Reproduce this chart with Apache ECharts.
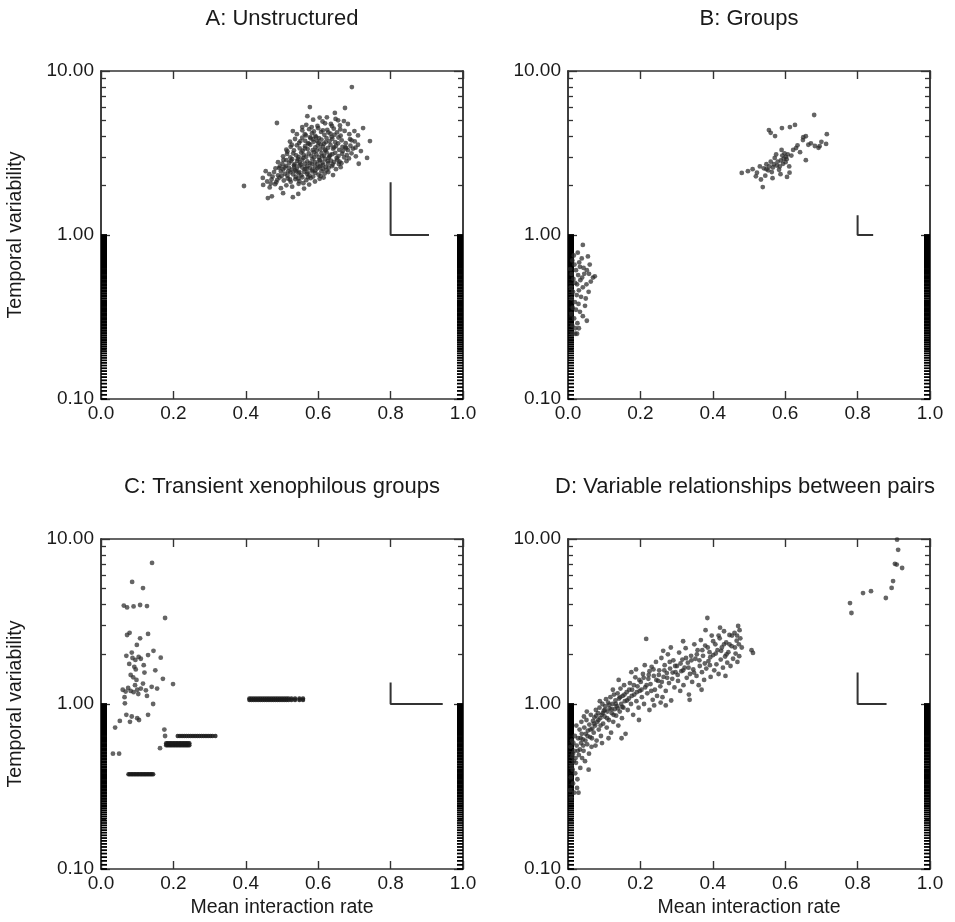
<!DOCTYPE html>
<html>
<head>
<meta charset="utf-8">
<title>Interaction rate vs temporal variability</title>
<script src="https://cdn.jsdelivr.net/npm/echarts@6/dist/echarts.min.js"></script>
<style>
  html, body { margin: 0; padding: 0; background: #fff; }
  #chart { width: 955px; height: 922px; }
</style>
</head>
<body>
<div id="chart"></div>
<script>
// ---- axis ticks ----
const xTickStep = 0.2;
const yMajor = [0.1, 1, 10];
const yMinor = [0.2, 0.3, 0.4, 0.5, 0.6, 0.7, 0.8, 0.9, 2, 3, 4, 5, 6, 7, 8, 9];

// ---- panel titles and axis names ----
const panelTitles = ['A: Unstructured', 'B: Groups', 'C: Transient xenophilous groups', 'D: Variable relationships between pairs'];
const yName = 'Temporal variability';
const xName = 'Mean interaction rate';

// ---- tick stacks drawn at rate 0 and rate 1 ----
const stackLevels = [
  0.100,0.106,0.112,0.118,0.124,0.130,0.136,0.142,0.148,0.154,0.160,0.166,0.172,0.178,0.184,0.190,0.196,
  0.202,0.208,0.214,0.220,0.226,0.232,0.238,0.244,0.250,0.256,0.262,0.268,0.274,0.280,0.286,0.292,0.298,
  0.304,0.310,0.316,0.322,0.328,0.334,0.340,0.346,0.352,0.358,0.364,0.370,0.376,0.382,0.388,0.394,0.400,
  0.41,0.42,0.43,0.44,0.45,0.46,0.47,0.48,0.49,0.50,0.51,0.52,0.53,0.54,0.55,0.56,0.57,0.58,0.59,0.60,
  0.61,0.62,0.63,0.64,0.65,0.66,0.67,0.68,0.69,0.70,0.71,0.72,0.73,0.74,0.75,0.76,0.77,0.78,0.79,0.80,
  0.81,0.82,0.83,0.84,0.85,0.86,0.87,0.88,0.89,0.90,0.91,0.92,0.93,0.94,0.95,0.96,0.97,0.98,0.99,1.00
];

// ---- scale bars (L marks) per panel ----
const scaleBarA = [[0.8, 2.1], [0.8, 1.0], [0.906, 1.0]];
const scaleBarB = [[0.8, 1.32], [0.8, 1.0], [0.843, 1.0]];
const scaleBarC = [[0.8, 1.35], [0.8, 1.0], [0.944, 1.0]];
const scaleBarD = [[0.8, 1.55], [0.8, 1.0], [0.880, 1.0]];

// ---- A: Unstructured ----
const ptsA = [
  [0.461,1.68],[0.472,1.72],[0.530,1.70],[0.503,1.80],[0.545,1.78],
  [0.395,1.99],[0.448,2.02],[0.466,1.95],[0.481,2.04],[0.497,1.93],[0.512,2.01],[0.528,1.97],[0.546,2.05],[0.561,1.92],[0.575,2.03],
  [0.447,2.23],[0.459,2.12],[0.471,2.18],[0.484,2.10],[0.493,2.24],[0.505,2.15],[0.516,2.21],[0.524,2.11],[0.537,2.19],[0.548,2.13],[0.556,2.25],[0.567,2.16],[0.579,2.22],[0.591,2.12],[0.604,2.20],[0.615,2.24],
  [0.465,2.35],[0.478,2.42],[0.489,2.31],[0.497,2.44],[0.508,2.36],[0.515,2.30],[0.523,2.41],[0.531,2.34],[0.539,2.45],[0.546,2.38],[0.553,2.31],[0.561,2.43],[0.569,2.36],[0.576,2.30],[0.584,2.44],[0.592,2.39],[0.601,2.33],[0.609,2.45],[0.618,2.37],[0.628,2.42],[0.641,2.32],
  [0.482,2.55],[0.494,2.62],[0.503,2.51],[0.511,2.64],[0.519,2.57],[0.527,2.50],[0.534,2.61],[0.541,2.54],[0.548,2.65],[0.556,2.58],[0.563,2.52],[0.570,2.63],[0.577,2.56],[0.584,2.50],[0.591,2.62],[0.598,2.55],[0.606,2.64],[0.613,2.53],[0.621,2.60],[0.629,2.57],[0.638,2.63],[0.649,2.52],[0.662,2.59],
  [0.489,2.78],[0.501,2.72],[0.512,2.86],[0.520,2.75],[0.528,2.90],[0.535,2.70],[0.542,2.83],[0.549,2.77],[0.556,2.88],[0.563,2.72],[0.570,2.81],[0.577,2.74],[0.584,2.89],[0.591,2.78],[0.598,2.71],[0.605,2.85],[0.612,2.76],[0.619,2.90],[0.627,2.73],[0.635,2.84],[0.644,2.79],[0.653,2.88],[0.664,2.74],[0.678,2.82],
  [0.503,3.02],[0.514,3.12],[0.523,2.97],[0.531,3.15],[0.539,3.06],[0.546,2.99],[0.553,3.18],[0.560,3.08],[0.567,3.00],[0.574,3.14],[0.581,3.04],[0.588,3.20],[0.595,3.10],[0.602,2.98],[0.609,3.16],[0.616,3.05],[0.623,3.19],[0.631,3.01],[0.639,3.11],[0.647,3.17],[0.656,3.03],[0.666,3.13],[0.679,3.07],[0.692,3.15],
  [0.512,3.31],[0.524,3.45],[0.533,3.28],[0.541,3.52],[0.549,3.37],[0.557,3.26],[0.564,3.48],[0.571,3.34],[0.578,3.55],[0.585,3.29],[0.592,3.42],[0.599,3.51],[0.606,3.33],[0.613,3.46],[0.620,3.27],[0.627,3.40],[0.634,3.54],[0.641,3.36],[0.649,3.49],[0.658,3.30],[0.667,3.44],[0.677,3.38],[0.689,3.50],[0.703,3.41],
  [0.522,3.71],[0.536,3.85],[0.547,3.64],[0.556,3.92],[0.564,3.75],[0.572,3.62],[0.579,3.88],[0.587,3.70],[0.594,3.95],[0.601,3.66],[0.609,3.82],[0.616,3.60],[0.623,3.90],[0.631,3.73],[0.639,3.86],[0.647,3.68],[0.656,3.93],[0.665,3.78],[0.676,3.63],[0.688,3.84],[0.701,3.72],[0.743,3.74],
  [0.541,4.12],[0.556,4.35],[0.566,4.05],[0.575,4.42],[0.583,4.18],[0.592,4.02],[0.600,4.48],[0.608,4.25],[0.617,4.08],[0.625,4.38],[0.634,4.15],[0.643,4.45],[0.652,4.22],[0.662,4.03],[0.673,4.31],[0.686,4.12],[0.724,4.49],[0.530,4.30],
  [0.486,4.82],[0.567,4.70],[0.586,5.05],[0.598,4.62],[0.612,4.92],[0.624,5.22],[0.635,4.75],[0.648,5.10],[0.660,4.66],[0.671,4.95],
  [0.577,6.03],[0.674,5.95],[0.693,7.98],[0.646,5.55],[0.735,2.95],[0.718,3.25],[0.712,2.72],[0.455,2.45],
  [0.536,2.48],[0.552,2.69],[0.559,2.95],[0.571,2.41],[0.582,2.71],[0.589,2.97],[0.596,3.28],[0.603,2.59],[0.611,3.02],[0.619,3.31],
  [0.626,2.82],[0.633,3.08],[0.644,3.42],[0.651,2.95],[0.544,2.91],[0.533,2.66],[0.525,2.83],[0.517,2.44],[0.507,2.58],[0.499,2.29],
  [0.563,3.37],[0.574,3.61],[0.586,3.83],[0.597,3.74],[0.607,3.57],[0.621,3.68],[0.637,3.97],[0.655,3.62],[0.668,3.25],[0.682,3.29],
  [0.559,2.07],[0.538,2.26],[0.522,2.18],[0.586,2.27],[0.613,2.68],[0.592,2.47],[0.567,2.54],[0.548,2.42],[0.603,2.86],[0.629,2.96],
  [0.640,2.69],[0.657,2.71],[0.672,2.97],[0.685,2.93],[0.696,3.36],[0.710,3.55],[0.704,3.02],[0.588,4.28],[0.613,4.35],[0.628,4.22],
  [0.645,4.08],[0.602,3.90],[0.578,3.95],[0.563,4.12],[0.551,3.74],[0.527,3.55],[0.515,3.23],[0.504,2.87],[0.492,2.56],[0.474,2.27],
  [0.469,2.06],[0.487,2.17],[0.545,2.21],[0.572,2.25],[0.607,2.29],[0.623,2.48],[0.659,2.80],[0.675,3.43],[0.692,3.78],[0.710,4.05],
  [0.661,4.40],[0.638,4.62],[0.619,4.80],[0.604,5.20],[0.582,4.55],[0.556,4.55],[0.570,5.30],[0.655,5.00],[0.682,4.75],[0.700,4.30]
];

// ---- B: Groups ----
const ptsB = [
  [0.680,5.39],[0.627,4.69],[0.591,4.49],[0.555,4.36],[0.572,4.01],[0.560,4.20],[0.715,4.12],[0.649,3.79],[0.682,3.49],[0.713,3.59],
  [0.630,3.39],[0.602,2.99],[0.657,2.86],[0.480,2.39],[0.538,1.96],[0.605,2.26],
  [0.497,2.45],[0.510,2.52],[0.522,2.40],[0.530,2.62],[0.541,2.55],[0.548,2.70],[0.553,2.48],[0.560,2.80],[0.566,2.58],[0.571,2.95],
  [0.577,2.65],[0.583,2.50],[0.588,2.85],[0.594,2.72],[0.598,3.15],[0.604,2.90],[0.611,2.62],[0.617,3.05],[0.622,3.30],[0.634,3.52],
  [0.641,3.20],[0.664,3.55],[0.671,3.62],[0.692,3.40],[0.700,3.70],[0.545,2.30],[0.565,2.22],[0.587,2.35],[0.612,2.40],[0.533,2.18],
  [0.519,2.28],[0.575,3.10],[0.590,3.30],[0.650,3.95],[0.695,3.48],[0.613,4.55],[0.657,4.00],
  [0.556,2.62],[0.563,2.42],[0.579,2.80],[0.585,2.62],[0.596,2.92],[0.601,2.78],[0.607,3.10],[0.569,2.70],[0.548,2.52],[0.592,3.05],
  [0.041,0.87],[0.055,0.74],[0.033,0.64],[0.052,0.61],[0.069,0.55],[0.074,0.56],[0.025,0.50],[0.041,0.48],[0.047,0.37],[0.041,0.32],
  [0.052,0.30],[0.012,0.70],[0.018,0.66],[0.022,0.61],[0.010,0.58],[0.028,0.57],[0.015,0.54],[0.034,0.53],[0.020,0.51],[0.008,0.48],
  [0.030,0.46],[0.014,0.45],[0.024,0.43],[0.036,0.42],[0.010,0.41],[0.019,0.39],[0.029,0.38],[0.013,0.36],[0.022,0.35],[0.033,0.34],
  [0.009,0.33],[0.017,0.31],[0.026,0.29],[0.012,0.28],[0.020,0.27],[0.030,0.27],[0.045,0.58],[0.060,0.66],[0.038,0.72],[0.027,0.78],
  [0.063,0.52],[0.057,0.45],[0.049,0.41],[0.016,0.75],[0.043,0.63],[0.006,0.62],[0.031,0.68],[0.058,0.58],[0.039,0.55],[0.051,0.50],
  [0.012,0.25],[0.020,0.25],[0.025,0.25]
];

// ---- C: Transient xenophilous groups ----
const ptsC = [
  [0.141,7.16],[0.086,5.49],[0.116,5.04],[0.063,3.95],[0.072,3.85],[0.090,3.90],[0.108,3.98],[0.127,3.92],[0.177,3.32],[0.072,2.62],
  [0.079,2.70],[0.130,2.66],[0.099,2.28],[0.070,1.96],[0.087,1.90],[0.104,1.93],[0.130,1.98],[0.165,1.91],[0.085,2.05],[0.095,1.85],
  [0.110,1.88],[0.078,1.75],[0.092,1.68],[0.096,1.62],[0.118,1.72],[0.082,1.50],[0.089,1.45],[0.171,1.42],[0.060,1.22],[0.068,1.19],
  [0.075,1.25],[0.082,1.20],[0.090,1.18],[0.100,1.22],[0.110,1.24],[0.124,1.21],[0.140,1.27],[0.155,1.24],[0.199,1.32],[0.094,1.30],
  [0.103,1.15],[0.116,1.33],[0.066,1.01],[0.144,1.00],[0.070,0.86],[0.085,0.84],[0.100,0.82],[0.105,0.80],[0.130,0.86],[0.052,0.79],
  [0.080,0.78],[0.039,0.72],[0.177,0.64],[0.163,0.54],[0.033,0.50],[0.050,0.50],[0.120,1.55],[0.150,1.60],[0.145,2.10],[0.108,2.50],
  [0.098,1.40],[0.065,1.10],[0.127,1.12],[0.175,0.70]
];
// dense runs of pairs sharing one variability level
const cRunLowX = [0.076,0.080,0.084,0.088,0.092,0.096,0.100,0.104,0.108,0.112,0.116,0.120,0.124,0.128,0.132,0.136,0.140,0.144];
const cRunLowY = [0.375];
const cRunMidX = [0.180,0.184,0.188,0.192,0.196,0.200,0.204,0.208,0.212,0.216,0.220,0.224,0.228,0.232,0.236,0.240,0.244];
const cRunMidY = [0.562, 0.578];
const cRunUpX = [0.212,0.218,0.224,0.230,0.236,0.242,0.248,0.254,0.260,0.266,0.272,0.278,0.284,0.290,0.296,0.302,0.308,0.316];
const cRunUpY = [0.640];
const cRunHighX = [0.410,0.416,0.422,0.428,0.434,0.440,0.446,0.452,0.458,0.464,0.470,0.476,0.482,0.488,0.494,0.500,0.506,0.512,0.518,0.526,0.536,0.548,0.558];
const cRunHighY = [1.058, 1.078];

// ---- D: Variable relationships between pairs ----
const ptsD = [
  [0.006,0.30],[0.008,0.36],[0.010,0.42],[0.012,0.48],[0.007,0.55],[0.014,0.33],[0.016,0.45],[0.018,0.52],[0.011,0.60],[0.020,0.38],[0.009,0.27],[0.015,0.58],[0.019,0.64],[0.013,0.40],[0.017,0.29],
  [0.022,0.44],[0.024,0.56],[0.026,0.35],[0.028,0.62],[0.030,0.49],[0.032,0.70],[0.034,0.41],[0.036,0.58],[0.038,0.66],[0.025,0.31],[0.033,0.53],[0.039,0.47],[0.023,0.74],[0.029,0.29],[0.037,0.78],
  [0.041,0.61],[0.043,0.52],[0.045,0.72],[0.047,0.45],[0.049,0.66],[0.051,0.80],[0.053,0.57],[0.055,0.69],[0.057,0.40],[0.059,0.75],[0.061,0.63],[0.063,0.86],[0.065,0.55],[0.067,0.71],[0.069,0.79],[0.052,0.90],[0.058,0.50],[0.044,0.84],
  [0.071,0.67],[0.073,0.83],[0.075,0.74],[0.077,0.92],[0.079,0.60],[0.081,0.78],[0.083,0.88],[0.085,0.70],[0.087,0.95],[0.089,0.82],[0.091,0.64],[0.093,0.86],[0.095,1.00],[0.097,0.76],[0.099,0.91],[0.076,0.56],[0.088,1.04],[0.094,0.58],
  [0.101,0.84],[0.103,0.97],[0.105,1.07],[0.107,0.72],[0.109,0.90],[0.111,1.02],[0.113,0.80],[0.115,0.94],[0.117,1.10],[0.119,0.67],[0.121,0.88],[0.123,1.00],[0.125,0.78],[0.127,1.14],[0.129,0.93],[0.112,0.62],[0.124,1.22],
  [0.131,1.05],[0.133,0.85],[0.135,0.97],[0.137,1.16],[0.139,0.74],[0.141,1.08],[0.143,0.90],[0.145,1.24],[0.147,1.00],[0.149,0.82],[0.151,1.12],[0.153,0.95],[0.155,1.30],[0.157,1.04],[0.159,0.66],[0.140,1.40],[0.148,0.62],
  [0.162,1.18],[0.165,0.92],[0.168,1.08],[0.171,1.34],[0.174,1.00],[0.177,1.22],[0.180,0.86],[0.183,1.14],[0.186,1.45],[0.189,1.04],[0.192,1.28],[0.195,0.95],[0.198,1.20],[0.175,1.56],[0.188,1.62],[0.196,0.80],
  [0.201,1.36],[0.204,1.10],[0.207,1.52],[0.210,1.00],[0.213,1.26],[0.216,2.48],[0.219,1.16],[0.222,1.42],[0.225,0.92],[0.228,1.32],[0.231,1.68],[0.234,1.06],[0.237,1.48],[0.240,1.22],[0.243,1.80],[0.246,1.12],[0.249,1.38],[0.212,1.72],[0.238,0.98],[0.225,1.58],
  [0.252,1.60],[0.255,1.28],[0.258,1.90],[0.261,1.10],[0.264,1.46],[0.267,1.72],[0.270,1.20],[0.273,1.54],[0.276,2.00],[0.279,1.34],[0.282,1.64],[0.285,1.05],[0.288,1.42],[0.291,1.84],[0.294,1.26],[0.297,1.56],[0.263,2.10],[0.284,2.20],[0.270,0.98],[0.256,1.02],
  [0.301,1.70],[0.304,1.38],[0.307,2.05],[0.310,1.20],[0.313,1.58],[0.316,1.86],[0.319,1.30],[0.322,1.66],[0.325,2.18],[0.328,1.44],[0.331,1.78],[0.334,1.14],[0.337,1.52],[0.340,1.96],[0.343,1.36],[0.346,1.62],[0.349,2.30],[0.318,2.40],[0.336,1.06],
  [0.352,1.88],[0.355,1.48],[0.358,2.12],[0.361,1.30],[0.364,1.70],[0.367,2.44],[0.370,1.56],[0.373,1.96],[0.376,1.40],[0.379,2.26],[0.382,1.64],[0.385,3.32],[0.388,1.82],[0.391,2.06],[0.394,1.46],[0.397,2.60],[0.380,2.80],[0.369,1.22],[0.392,1.72],
  [0.401,1.98],[0.404,1.60],[0.407,2.30],[0.410,1.74],[0.413,2.12],[0.416,1.52],[0.419,2.50],[0.422,1.86],[0.425,2.20],[0.428,1.66],[0.431,2.76],[0.434,1.94],[0.437,2.36],[0.440,1.78],[0.443,2.06],[0.446,2.62],[0.449,1.70],[0.420,2.90],[0.435,1.48],
  [0.452,2.24],[0.456,1.88],[0.460,2.70],[0.463,2.02],[0.466,2.42],[0.470,2.97],[0.473,1.95],[0.476,2.50],[0.480,2.20],[0.511,2.04],[0.507,2.12],[0.468,1.80],
  [0.014,0.50],[0.021,0.47],[0.027,0.52],[0.035,0.62],[0.042,0.56],[0.048,0.60],[0.054,0.64],[0.062,0.70],[0.066,0.62],[0.072,0.76],
  [0.078,0.85],[0.084,0.80],[0.090,0.74],[0.096,0.88],[0.102,0.92],[0.108,0.82],[0.114,0.99],[0.120,0.93],[0.126,0.86],[0.132,1.00],
  [0.138,0.94],[0.144,1.10],[0.150,0.96],[0.156,1.14],[0.163,1.05],[0.169,1.22],[0.176,1.12],[0.182,1.30],[0.190,1.18],[0.197,1.40],
  [0.203,1.22],[0.209,1.44],[0.217,1.30],[0.223,1.50],[0.230,1.20],[0.236,1.62],[0.244,1.40],[0.251,1.50],[0.259,1.36],[0.266,1.60],
  [0.274,1.44],[0.281,1.80],[0.289,1.55],[0.296,1.70],[0.303,1.50],[0.311,1.76],[0.318,1.60],[0.326,1.90],[0.333,1.66],[0.341,1.84],
  [0.348,1.55],[0.356,2.00],[0.363,1.84],[0.371,2.12],[0.378,1.76],[0.386,2.20],[0.393,1.92],[0.401,2.40],[0.408,2.02],[0.416,2.60],
  [0.423,2.10],[0.431,2.30],[0.438,2.00],[0.446,2.30],[0.453,2.60],[0.461,2.20],[0.467,2.60],[0.472,2.30],[0.474,2.80],
  [0.909,9.90],[0.912,8.60],[0.903,7.07],[0.908,7.00],[0.923,6.67],[0.898,5.56],[0.894,5.05],[0.878,4.39],[0.837,4.83],[0.815,4.70],[0.779,4.09],[0.783,3.56]
];

// ---- styling / layout ----
const INK = '#333';
const TXT = '#1a1a1a';
const FONT = '"Liberation Sans", Arial, Helvetica, sans-serif';
const grids = [
  { left: 101, top: 71, width: 362, height: 328 },
  { left: 568, top: 71, width: 362, height: 328 },
  { left: 101, top: 539, width: 362, height: 330 },
  { left: 568, top: 539, width: 362, height: 330 }
];
const scatterSets = [ptsA, ptsB, ptsC, ptsD];
const scaleBars = [scaleBarA, scaleBarB, scaleBarC, scaleBarD];

function runPoints(xs, ys) {
  const out = [];
  ys.forEach(y => xs.forEach(x => out.push([x, y])));
  return out;
}

const xAxes = [], yAxes = [], series = [];
const lineStyle = { color: INK, width: 1.5 };

grids.forEach((g, i) => {
  ['bottom', 'top'].forEach(pos => {
    xAxes.push({
      gridIndex: i, type: 'value', min: 0, max: 1, interval: xTickStep, position: pos,
      axisLine: { show: true, onZero: false, lineStyle },
      axisTick: { show: true, inside: true, length: 8, lineStyle: { color: INK, width: 1.4 } },
      axisLabel: pos === 'bottom'
        ? { show: true, formatter: v => v.toFixed(1), fontFamily: FONT, fontSize: 19, color: TXT, margin: 5 }
        : { show: false },
      splitLine: { show: false }
    });
  });
  [['left', true], ['left', false], ['right', true], ['right', false]].forEach(([pos, major]) => {
    yAxes.push({
      gridIndex: i, type: 'log', logBase: 10, min: 0.1, max: 10, position: pos,
      axisLine: { show: true, onZero: false, lineStyle },
      axisTick: { show: true, inside: true, length: major ? 9 : 5, customValues: major ? yMajor : yMinor,
                  lineStyle: { color: INK, width: 1.3 } },
      axisLabel: (major && pos === 'left')
        ? { show: true, customValues: yMajor, formatter: v => Number(v).toFixed(2), fontFamily: FONT, fontSize: 19, color: TXT, margin: 7 }
        : { show: false },
      splitLine: { show: false }
    });
  });

  const xi = 2 * i, yi = 4 * i;
  // tick stacks at rate 0 and rate 1
  [[0, 3], [1, -3]].forEach(([edge, off]) => {
    series.push({
      type: 'scatter', xAxisIndex: xi, yAxisIndex: yi, clip: false, silent: true,
      symbol: 'rect', symbolSize: [6, 1.8], symbolOffset: [off, 0],
      itemStyle: { color: '#000', opacity: 1 },
      data: stackLevels.map(v => [edge, v])
    });
  });
  // pair scatter
  series.push({
    type: 'scatter', xAxisIndex: xi, yAxisIndex: yi, clip: false, silent: true,
    symbol: 'circle', symbolSize: 4.8,
    itemStyle: { color: '#2a2a2a', opacity: 0.72 },
    data: scatterSets[i]
  });
  // scale bar
  series.push({
    type: 'line', xAxisIndex: xi, yAxisIndex: yi, silent: true,
    symbol: 'none', lineStyle: { color: INK, width: 2 },
    data: scaleBars[i]
  });
});

// horizontal runs in panel C
[[cRunLowX, cRunLowY], [cRunMidX, cRunMidY], [cRunUpX, cRunUpY], [cRunHighX, cRunHighY]].forEach(([xs, ys]) => {
  series.push({
    type: 'scatter', xAxisIndex: 4, yAxisIndex: 8, clip: false, silent: true,
    symbol: 'circle', symbolSize: 4.5,
    itemStyle: { color: '#1a1a1a', opacity: 0.85 },
    data: runPoints(xs, ys)
  });
});

const titleFont = '22px ' + FONT;
const nameFont = '19.5px ' + FONT;
const titleCenters = [282, 749, 282, 745];
const graphic = [];
grids.forEach((g, i) => {
  graphic.push({
    type: 'text', x: titleCenters[i], y: i < 2 ? 19 : 487,
    style: { text: panelTitles[i], font: titleFont, fill: TXT, align: 'center', verticalAlign: 'middle' }
  });
});
[0, 2].forEach(i => {
  const g = grids[i];
  graphic.push({
    type: 'text', x: 16, y: g.top + g.height / 2, rotation: Math.PI / 2,
    style: { text: yName, font: nameFont, fill: TXT, align: 'center', verticalAlign: 'middle' }
  });
});
[2, 3].forEach(i => {
  const g = grids[i];
  graphic.push({
    type: 'text', x: g.left + g.width / 2, y: 908,
    style: { text: xName, font: nameFont, fill: TXT, align: 'center', verticalAlign: 'middle' }
  });
});

const chart = echarts.init(document.getElementById('chart'), null, { renderer: 'canvas' });
chart.setOption({
  backgroundColor: '#fff',
  animation: false,
  grid: grids.map(g => Object.assign({ containLabel: false }, g)),
  xAxis: xAxes,
  yAxis: yAxes,
  series,
  graphic
});
</script>
</body>
</html>
